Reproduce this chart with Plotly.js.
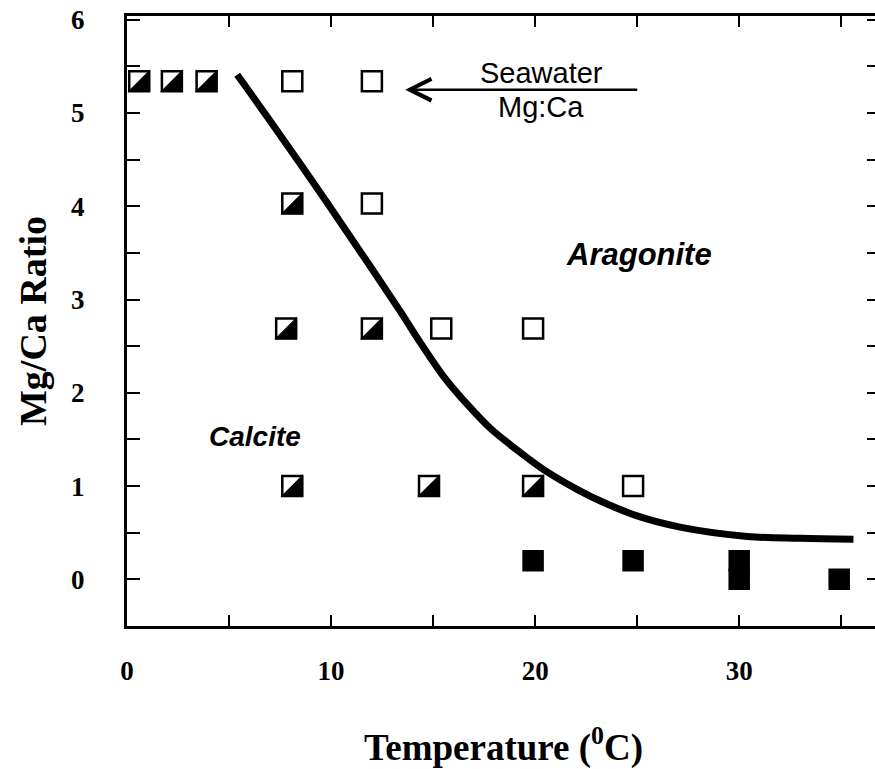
<!DOCTYPE html>
<html>
<head>
<meta charset="utf-8">
<script src="https://cdn.plot.ly/plotly-3.0.1.min.js"></script>
<style>
html, body { margin: 0; padding: 0; background: #fff; overflow: hidden; }
#chart { width: 885px; height: 769px; }
</style>
</head>
<body>
<div id="chart"></div>
<script>
// Half-filled squares (calcite precipitated)
const halfX = [0.6, 2.2, 3.9, 8.1, 7.8, 12.0, 8.1, 14.8, 19.9];
const halfY = [5.34, 5.34, 5.34, 4.03, 2.69, 2.69, 1.0, 1.0, 1.0];
// Open squares (aragonite)
const openX = [8.1, 12.0, 12.0, 15.4, 19.9, 24.8];
const openY = [5.34, 5.34, 4.03, 2.69, 2.69, 1.0];
// Filled squares
const filledX = [19.9, 24.8, 30.0, 30.0, 34.9];
const filledY = [0.2, 0.2, 0.2, 0.0, 0.0];
// Boundary curve
const curveX = [5.4, 7.0, 9.8, 12.0, 13.4, 14.4, 15.5, 16.7, 17.8, 19.1, 20.4, 22.1, 23.2, 25.0, 27.1, 30.4, 33.0, 35.6];
const curveY = [5.41, 4.92, 4.04, 3.33, 2.87, 2.53, 2.18, 1.87, 1.62, 1.39, 1.18, 0.96, 0.84, 0.68, 0.56, 0.46, 0.44, 0.43];

const xTicks = [0, 10, 20, 30];
const yTicks = [0, 1, 2, 3, 4, 5, 6];

const serif = 'Liberation Serif, Times New Roman, serif';
const sans = 'Liberation Sans, Arial, sans-serif';

const msize = 20;

const traces = [
  {
    x: curveX, y: curveY, mode: 'lines', type: 'scatter',
    line: {color: '#000', width: 7, shape: 'spline', smoothing: 1.0},
    hoverinfo: 'skip', showlegend: false
  },
  {
    x: openX, y: openY, mode: 'markers', type: 'scatter',
    marker: {symbol: 'square', size: msize, color: '#fff', line: {color: '#000', width: 2.5}},
    showlegend: false
  },
  {
    x: halfX, y: halfY, mode: 'markers', type: 'scatter',
    marker: {symbol: 'square', size: msize, color: '#fff', line: {color: '#000', width: 2.5}},
    showlegend: false
  },
  {
    x: filledX, y: filledY, mode: 'markers', type: 'scatter',
    marker: {symbol: 'square', size: msize, color: '#000', line: {color: '#000', width: 1.5}},
    showlegend: false
  }
];

const s = msize / 2;
const shapes = halfX.map((xv, i) => ({
  type: 'path', xref: 'x', yref: 'y',
  xsizemode: 'pixel', ysizemode: 'pixel',
  xanchor: xv, yanchor: halfY[i],
  path: `M ${s},${s} L ${s},${-s} L ${-s},${-s} Z`,
  fillcolor: '#000', line: {color: '#000', width: 1.5}
}));

const layout = {
  width: 885, height: 769,
  margin: {l: 127, r: 5, t: 16, b: 143},
  paper_bgcolor: '#fff', plot_bgcolor: '#fff',
  font: {family: serif, color: '#000'},
  showlegend: false,
  xaxis: {
    range: [0, 36.9],
    tickvals: xTicks,
    ticks: 'inside', ticklen: 11, tickwidth: 2, tickcolor: '#000',
    minor: {dtick: 5, tick0: 0, ticks: 'inside', ticklen: 11, tickwidth: 2, tickcolor: '#000'},
    showline: true, linewidth: 3, linecolor: '#000', mirror: 'allticks',
    showgrid: false, zeroline: false,
    tickfont: {family: serif, size: 27, weight: 'bold'},
    ticklabelstandoff: 19,
    title: {text: 'Temperature (<sup>0</sup>C)', font: {family: serif, size: 37, weight: 'bold'}, standoff: 50}
  },
  yaxis: {
    range: [-0.5, 6.04],
    tickvals: yTicks,
    ticks: 'inside', ticklen: 13, tickwidth: 2, tickcolor: '#000',
    minor: {dtick: 0.5, tick0: 0, ticks: 'inside', ticklen: 13, tickwidth: 2, tickcolor: '#000'},
    showline: true, linewidth: 3, linecolor: '#000', mirror: 'allticks',
    showgrid: false, zeroline: false,
    tickfont: {family: serif, size: 27, weight: 'bold'},
    ticklabelstandoff: 34,
    title: {text: 'Mg/Ca Ratio', font: {family: serif, size: 38, weight: 'bold'}, standoff: 13}
  },
  shapes: shapes,
  annotations: [
    {x: 20.3, y: 5.43, xref: 'x', yref: 'y', text: 'Seawater', showarrow: false,
     font: {family: sans, size: 29, color: '#000'}, xanchor: 'center', yanchor: 'middle'},
    {x: 20.3, y: 5.06, xref: 'x', yref: 'y', text: 'Mg:Ca', showarrow: false,
     font: {family: sans, size: 29, color: '#000'}, xanchor: 'center', yanchor: 'middle'},
    {x: 13.63, y: 5.25, xref: 'x', yref: 'y', ax: 25.15, ay: 5.25, axref: 'x', ayref: 'y',
     text: ' ', showarrow: true, arrowhead: 5, arrowsize: 1.7, arrowwidth: 2.5, arrowcolor: '#000', standoff: 0},
    {x: 6.27, y: 1.53, xref: 'x', yref: 'y', text: 'Calcite', showarrow: false,
     font: {family: sans, size: 28, color: '#000', weight: 'bold', style: 'italic'}, xanchor: 'center', yanchor: 'middle'},
    {x: 25.1, y: 3.48, xref: 'x', yref: 'y', text: 'Aragonite', showarrow: false,
     font: {family: sans, size: 31, color: '#000', weight: 'bold', style: 'italic'}, xanchor: 'center', yanchor: 'middle'}
  ]
};

Plotly.newPlot('chart', traces, layout, {staticPlot: true, displayModeBar: false});
</script>
</body>
</html>
